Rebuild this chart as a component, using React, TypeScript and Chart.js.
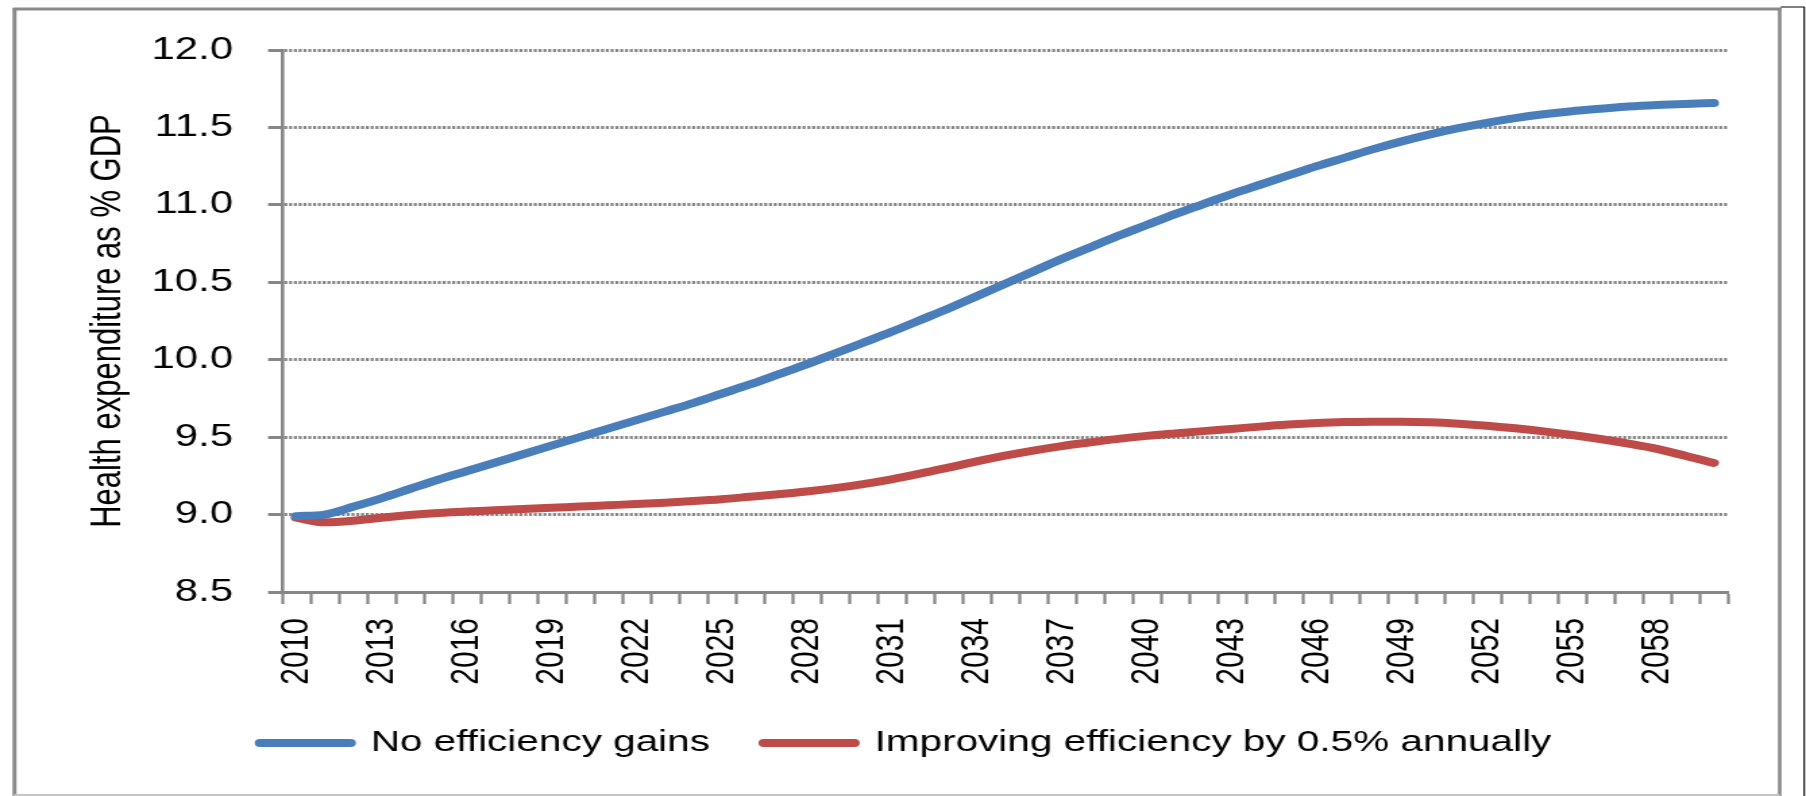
import { useEffect, useRef } from 'react';
import { Chart, registerables } from 'chart.js';

Chart.register(...registerables);

// ---------- data ----------
const years = [
  '2010', '2011', '2012', '2013', '2014', '2015', '2016', '2017', '2018', '2019',
  '2020', '2021', '2022', '2023', '2024', '2025', '2026', '2027', '2028', '2029',
  '2030', '2031', '2032', '2033', '2034', '2035', '2036', '2037', '2038', '2039',
  '2040', '2041', '2042', '2043', '2044', '2045', '2046', '2047', '2048', '2049',
  '2050', '2051', '2052', '2053', '2054', '2055', '2056', '2057', '2058', '2059',
  '2060',
];

const tickLabelYears = [
  '2010', '2013', '2016', '2019', '2022', '2025', '2028', '2031', '2034',
  '2037', '2040', '2043', '2046', '2049', '2052', '2055', '2058',
];

const noEfficiencyGains = [
  8.99, 9.0, 9.05, 9.105, 9.165, 9.225, 9.28, 9.335, 9.39, 9.445,
  9.5, 9.555, 9.61, 9.665, 9.72, 9.78, 9.84, 9.905, 9.97, 10.04,
  10.11, 10.18, 10.255, 10.33, 10.41, 10.49, 10.57, 10.65, 10.725, 10.8,
  10.87, 10.94, 11.005, 11.07, 11.13, 11.19, 11.25, 11.305, 11.36, 11.41,
  11.455, 11.495, 11.53, 11.56, 11.585, 11.605, 11.62, 11.635, 11.645, 11.652,
  11.657,
];

const improvingEfficiency = [
  8.98, 8.95, 8.96, 8.98, 8.997, 9.01, 9.02, 9.028, 9.036, 9.044,
  9.052, 9.06, 9.068, 9.077, 9.087, 9.099, 9.115, 9.131, 9.149, 9.171,
  9.197, 9.228, 9.264, 9.303, 9.343, 9.38, 9.413, 9.442, 9.466, 9.489,
  9.508, 9.524, 9.539, 9.553, 9.568, 9.581, 9.591, 9.597, 9.6, 9.6,
  9.596, 9.587, 9.574, 9.557, 9.537, 9.514, 9.488, 9.458, 9.424, 9.38,
  9.333,
];

const seriesLabels = ['No efficiency gains', 'Improving efficiency by 0.5% annually'];
const seriesColors = ['#4A7EBB', '#BE4B48'];

const yTitle = 'Health expenditure as % GDP';
const yMin = 8.5;
const yMax = 12.0;
const yStep = 0.5;

// ---------- layout ----------
const PAGE_W = 1806;
const PAGE_H = 796;
const STRETCH = 1.35; // horizontal stretch of the original picture
const CANVAS_W = Math.round(PAGE_W / STRETCH);
const hx = (d: number) => d / STRETCH; // horizontal display px -> canvas px

const FONT = "'Liberation Sans', Arial, sans-serif";
const AXIS_GREY = '#868686';

const framePlugin = {
  id: 'frame',
  beforeDraw(chart: any) {
    const ctx = chart.ctx as CanvasRenderingContext2D;
    ctx.save();
    ctx.fillStyle = '#ffffff';
    ctx.fillRect(0, 0, chart.width, chart.height);
    ctx.strokeStyle = '#8a8a8a';
    // top
    ctx.lineWidth = 3;
    ctx.beginPath();
    ctx.moveTo(hx(13), 9);
    ctx.lineTo(hx(1782), 9);
    ctx.stroke();
    // left
    ctx.lineWidth = hx(4);
    ctx.beginPath();
    ctx.moveTo(hx(14.5), 8);
    ctx.lineTo(hx(14.5), PAGE_H);
    ctx.stroke();
    // right
    ctx.lineWidth = hx(3.5);
    ctx.beginPath();
    ctx.moveTo(hx(1780), 8);
    ctx.lineTo(hx(1780), PAGE_H);
    ctx.stroke();
    // bottom
    ctx.strokeStyle = '#c4c4c4';
    ctx.lineWidth = 2;
    ctx.beginPath();
    ctx.moveTo(hx(14), 795);
    ctx.lineTo(hx(1780), 795);
    ctx.stroke();
    // thin black outer edge on the right
    ctx.strokeStyle = '#000000';
    ctx.lineWidth = hx(1.5);
    ctx.beginPath();
    ctx.moveTo(hx(1804.5), 7);
    ctx.lineTo(hx(1804.5), PAGE_H);
    ctx.stroke();
    ctx.lineWidth = 1;
    ctx.beginPath();
    ctx.moveTo(hx(1781), 7);
    ctx.lineTo(hx(1805), 7);
    ctx.stroke();
    ctx.restore();
  },
};

export default function App() {
  const ref = useRef<HTMLCanvasElement>(null);

  useEffect(() => {
    if (!ref.current) return;
    const chart = new Chart(ref.current, {
      type: 'line',
      data: {
        labels: years,
        datasets: [
          {
            label: seriesLabels[0],
            data: noEfficiencyGains,
            borderColor: seriesColors[0],
            backgroundColor: seriesColors[0],
            borderWidth: 8,
            borderCapStyle: 'round',
            borderJoinStyle: 'round',
            pointRadius: 0,
            cubicInterpolationMode: 'monotone',
            fill: false,
          },
          {
            label: seriesLabels[1],
            data: improvingEfficiency,
            borderColor: seriesColors[1],
            backgroundColor: seriesColors[1],
            borderWidth: 8,
            borderCapStyle: 'round',
            borderJoinStyle: 'round',
            pointRadius: 0,
            cubicInterpolationMode: 'monotone',
            fill: false,
          },
        ],
      },
      options: {
        responsive: false,
        animation: false,
        devicePixelRatio: 1,
        layout: { padding: { left: 62, right: 58, top: 50, bottom: 28 } },
        plugins: {
          tooltip: { enabled: false },
          title: { display: false },
          legend: {
            display: true,
            position: 'bottom',
            labels: {
              font: { family: FONT, size: 30 },
              color: '#000000',
              usePointStyle: true,
              pointStyleWidth: 67,
              boxHeight: 8,
              padding: 40,
              generateLabels: (c: any) =>
                c.data.datasets.map((ds: any, i: number) => ({
                  text: ds.label,
                  fillStyle: ds.borderColor,
                  strokeStyle: ds.borderColor,
                  lineWidth: 8,
                  lineCap: 'round',
                  pointStyle: 'line',
                  hidden: false,
                  datasetIndex: i,
                  fontColor: '#000000',
                })),
            },
          },
        },
        scales: {
          x: {
            type: 'category',
            offset: true,
            afterFit: (scale: any) => {
              scale.height = 96;
            },
            grid: {
              offset: true,
              drawOnChartArea: false,
              drawTicks: true,
              tickLength: 12,
              tickWidth: hx(3),
              tickColor: AXIS_GREY,
              tickBorderDash: [],
            },
            border: { display: true, color: AXIS_GREY, width: 3 },
            ticks: {
              autoSkip: false,
              maxRotation: 90,
              minRotation: 90,
              padding: 14,
              color: '#000000',
              font: { family: FONT, size: 30 },
              callback: (_v: any, i: number) =>
                tickLabelYears.includes(years[i]) ? years[i] : '',
            },
          },
          y: {
            min: yMin,
            max: yMax,
            afterFit: (scale: any) => {
              scale.width = 147;
            },
            grid: {
              color: AXIS_GREY,
              lineWidth: 3,
              drawTicks: true,
              tickLength: hx(14),
              tickWidth: 3,
              tickColor: AXIS_GREY,
              tickBorderDash: [],
            },
            border: { display: true, color: AXIS_GREY, width: hx(3.5), dash: [hx(3), hx(1.8)] },
            ticks: {
              stepSize: yStep,
              padding: 26,
              color: '#000000',
              font: { family: FONT, size: 31 },
              callback: (v: any) => Number(v).toFixed(1),
            },
            title: {
              display: true,
              text: yTitle,
              color: '#000000',
              padding: 0,
              font: { family: FONT, size: 31 },
            },
          },
        },
      },
      plugins: [framePlugin],
    } as any);
    return () => chart.destroy();
  }, []);

  return (
    <div
      style={{
        position: 'fixed',
        left: 0,
        top: 0,
        width: PAGE_W,
        height: PAGE_H,
        background: '#ffffff',
      }}
    >
      <canvas
        ref={ref}
        width={CANVAS_W}
        height={PAGE_H}
        style={{ width: `${PAGE_W}px`, height: `${PAGE_H}px`, display: 'block' }}
      />
    </div>
  );
}
